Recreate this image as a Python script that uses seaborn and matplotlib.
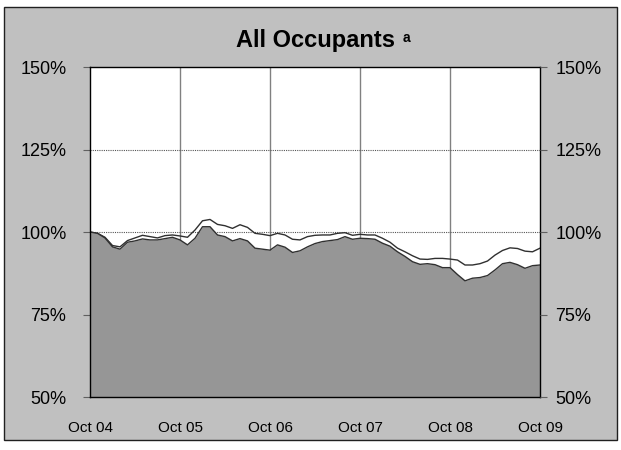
import pandas as pd
import numpy as np
import matplotlib.pyplot as plt
import seaborn as sns
from matplotlib.patches import Rectangle

# monthly index values, Oct 04 .. Oct 09 (61 months)
lower = [100.0, 99.6, 98.2, 95.5, 94.8, 96.9, 97.3, 97.9, 97.6, 97.6,
         98.0, 98.4, 97.6, 96.1, 98.1, 101.6, 101.6, 99.1, 98.6, 97.3,
         98.0, 97.3, 95.1, 94.8, 94.5, 96.1, 95.4, 93.8, 94.3, 95.5,
         96.5, 97.1, 97.4, 97.7, 98.6, 97.8, 98.1, 98.0, 97.8, 96.6,
         95.7, 94.0, 92.6, 91.0, 90.2, 90.4, 90.1, 89.2, 89.2, 87.1,
         85.2, 86.0, 86.2, 86.8, 88.5, 90.4, 90.8, 90.1, 89.0, 89.8,
         90.0]
upper = [100.0, 99.6, 98.4, 95.9, 95.5, 97.4, 98.2, 99.0, 98.6, 98.2,
         98.9, 99.1, 98.8, 98.4, 100.6, 103.4, 103.8, 102.3, 101.9, 101.1,
         102.2, 101.4, 99.6, 99.3, 98.9, 99.6, 99.1, 97.8, 97.6, 98.6,
         99.0, 99.1, 99.1, 99.6, 99.8, 99.0, 99.3, 99.1, 99.1, 98.1,
         96.9, 95.1, 94.0, 92.8, 91.8, 91.7, 92.0, 92.0, 91.8, 91.5,
         90.0, 90.0, 90.4, 91.2, 93.0, 94.4, 95.2, 95.0, 94.2, 94.0,
         95.1]
year_labels = ['Oct 04', 'Oct 05', 'Oct 06', 'Oct 07', 'Oct 08', 'Oct 09']
y_ticks = [50, 75, 100, 125, 150]

df = pd.DataFrame({'month': np.arange(len(lower)), 'lower': lower, 'upper': upper})

sns.set_style('white')
plt.rcParams['font.family'] = ['Liberation Sans', 'DejaVu Sans']
plt.rcParams['text.color'] = 'black'
plt.rcParams['xtick.labelcolor'] = 'black'
plt.rcParams['ytick.labelcolor'] = 'black'

fig = plt.figure(figsize=(6.21, 4.5), dpi=100, facecolor='white')
fig.patches.append(Rectangle((4 / 621, 1 - 440 / 450), 613 / 621, 433 / 450,
                             transform=fig.transFigure, facecolor='#c0c0c0',
                             edgecolor='#202020', linewidth=1, zorder=-10))

ax = fig.add_axes([90 / 621, 1 - 397 / 450, 450 / 621, 330 / 450])
ax.set_facecolor('white')

# grid
for k in range(1, len(year_labels) - 1):
    ax.axvline(k * 12, color='#808080', lw=1, zorder=1)
for v in [75, 100, 125]:
    ax.axhline(v, color='#555555', lw=0.8, ls=(0, (1, 1)), zorder=1)

sns.lineplot(data=df, x='month', y='upper', ax=ax, color='#303030', lw=1, zorder=2)
ax.fill_between(df['month'], 0, df['lower'], color='#969696', lw=0, zorder=3)
sns.lineplot(data=df, x='month', y='lower', ax=ax, color='#303030', lw=1, zorder=4)

ax.set_xlim(0, 60)
ax.set_ylim(50, 150)
ax.set_xticks(np.arange(0, 61, 12))
ax.set_xticklabels(year_labels)
ax.set_yticks(y_ticks)
ax.set_yticklabels([f'{v}%' for v in y_ticks])
ax.set_xlabel('')
ax.set_ylabel('')
ax.tick_params(axis='x', direction='inout', length=8, color='#606060',
               labelcolor='black', labelsize=11, pad=13)
ax.tick_params(axis='y', direction='out', length=5, color='#606060',
               labelcolor='black', labelsize=13, pad=12)
for s in ax.spines.values():
    s.set_color('black')
    s.set_linewidth(1)
    s.set_zorder(5)
    s.set_visible(True)

ax2 = ax.twinx()
ax2.set_ylim(50, 150)
ax2.set_yticks(y_ticks)
ax2.set_yticklabels([f'{v}%' for v in y_ticks])
ax2.tick_params(axis='y', direction='out', length=5, color='#606060',
                labelcolor='black', labelsize=13, pad=6)
for s in ax2.spines.values():
    s.set_visible(False)

fig.text(316 / 621, 1 - 47 / 450, 'All Occupants', ha='center', va='baseline',
         fontsize=17, fontweight='bold', color='black')
fig.text(403 / 621, 1 - 42 / 450, 'a', ha='left', va='baseline',
         fontsize=10, fontweight='bold', color='black')

fig.savefig('out.png', dpi=100, facecolor=fig.get_facecolor())
